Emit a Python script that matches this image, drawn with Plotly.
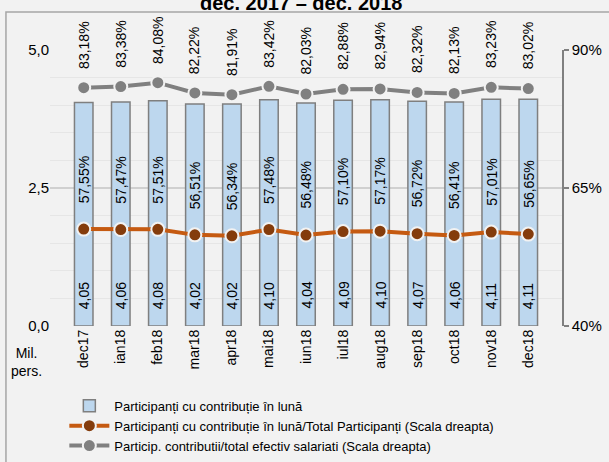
import plotly.graph_objects as go

months = ["dec17", "ian18", "feb18", "mar18", "apr18", "mai18", "iun18",
          "iul18", "aug18", "sep18", "oct18", "nov18", "dec18"]
participants = [4.05, 4.06, 4.08, 4.02, 4.02, 4.10, 4.04, 4.09, 4.10, 4.07, 4.06, 4.11, 4.11]
share_total = [57.55, 57.47, 57.51, 56.51, 56.34, 57.48, 56.48, 57.10, 57.17, 56.72, 56.41, 57.01, 56.65]
share_employees = [83.18, 83.38, 84.08, 82.22, 81.91, 83.42, 82.03, 82.88, 82.94, 82.32, 82.13, 83.23, 83.02]
right_ticks = [40, 65, 90]
left_ticks = [0, 2.5, 5]

names = ["Participanți cu contribuție în lună",
         "Participanți cu contribuție în lună/Total Participanți (Scala dreapta)",
         "Particip. contributii/total efectiv salariati (Scala dreapta)"]

FONT = "Liberation Sans Narrow, Arial Narrow, Liberation Sans, Arial, sans-serif"

def fmt(v, d=2):
    return f"{v:.{d}f}".replace(".", ",")

fig = go.Figure()
fig.add_trace(go.Bar(
    x=months, y=participants, name=names[0],
    marker=dict(color="#bdd7ee", line=dict(color="#7f7f7f", width=1.5)),
    width=0.5, yaxis="y"))
fig.add_trace(go.Scatter(
    x=months, y=share_total, name=names[1], mode="lines+markers", yaxis="y2",
    line=dict(color="#c55a11", width=4),
    marker=dict(color="#843c0c", size=13, line=dict(color="#f2f2f2", width=2))))
fig.add_trace(go.Scatter(
    x=months, y=share_employees, name=names[2], mode="lines+markers", yaxis="y2",
    line=dict(color="#808080", width=4),
    marker=dict(color="#808080", size=13, line=dict(color="#f2f2f2", width=2))))

ann = []
for m, v in zip(months, participants):
    ann.append(dict(x=m, y=0, xref="x", yref="y", text=fmt(v), textangle=-90,
                    showarrow=False, yanchor="bottom", yshift=15,
                    font=dict(size=14, color="#000000", family=FONT)))
for m, v in zip(months, share_total):
    ann.append(dict(x=m, y=v, xref="x", yref="y2", text=fmt(v) + "%", textangle=-90,
                    showarrow=False, yanchor="bottom", yshift=24,
                    font=dict(size=14, color="#000000", family=FONT)))
for m, v in zip(months, share_employees):
    ann.append(dict(x=m, y=v, xref="x", yref="y2", text=fmt(v) + "%", textangle=-90,
                    showarrow=False, yanchor="bottom", yshift=17,
                    font=dict(size=14, color="#000000", family=FONT)))
ann.append(dict(x=-0.045, y=-0.06, xref="paper", yref="paper", text="Mil.<br>pers.",
                showarrow=False, xanchor="center", yanchor="top", align="center",
                font=dict(size=14, color="#000000", family=FONT)))
ann.append(dict(x=0.49, y=1.0, xref="paper", yref="paper", yshift=47,
                text="<b>dec. 2017 – dec. 2018</b>", showarrow=False,
                yanchor="middle", font=dict(size=20, color="#000000",
                                            family="Liberation Sans, Arial, sans-serif")))

fig.update_layout(
    width=609, height=462,
    paper_bgcolor="#f2f2f2", plot_bgcolor="#f2f2f2",
    margin=dict(l=50, r=47, t=50, b=136, autoexpand=False),
    font=dict(family=FONT, size=14, color="#000000"),
    bargap=0.5,
    showlegend=True,
    legend=dict(x=0.028, y=-0.235, xanchor="left", yanchor="top",
                bgcolor="rgba(0,0,0,0)", font=dict(size=13, family=FONT),
                itemwidth=40, tracegroupgap=0),
    xaxis=dict(tickangle=-90, showgrid=False, showline=False, ticks="",
               tickfont=dict(size=14, family=FONT)),
    yaxis=dict(range=[0, 5], tickvals=left_ticks,
               ticktext=[fmt(v, 1) for v in left_ticks],
               showgrid=True, gridcolor="#d0d0d0", gridwidth=1.5,
               zeroline=False, showline=False, ticks="",
               minor=dict(dtick=0.5, showgrid=True, gridcolor="#e6e6e6", gridwidth=1),
               tickfont=dict(size=15, family=FONT)),
    yaxis2=dict(range=[40, 90], tickvals=right_ticks,
                ticktext=[f"{v}%" for v in right_ticks],
                overlaying="y", side="right", showgrid=False, zeroline=False,
                showline=True, linecolor="#808080", linewidth=1.5,
                ticks="outside", ticklen=5, tickcolor="#808080", tickwidth=1.5,
                tickfont=dict(size=15, family=FONT)),
    annotations=ann,
    shapes=[dict(type="rect", xref="paper", yref="paper",
                 x0=-0.086, x1=1.2, y0=-0.7, y1=1.138,
                 line=dict(color="#a6a6a6", width=1.5), fillcolor="rgba(0,0,0,0)",
                 layer="below")],
)

fig.write_html("out.html", config={"displayModeBar": False},
               post_script="document.body.style.margin='0';"
                           "document.body.style.background='#f2f2f2';")
